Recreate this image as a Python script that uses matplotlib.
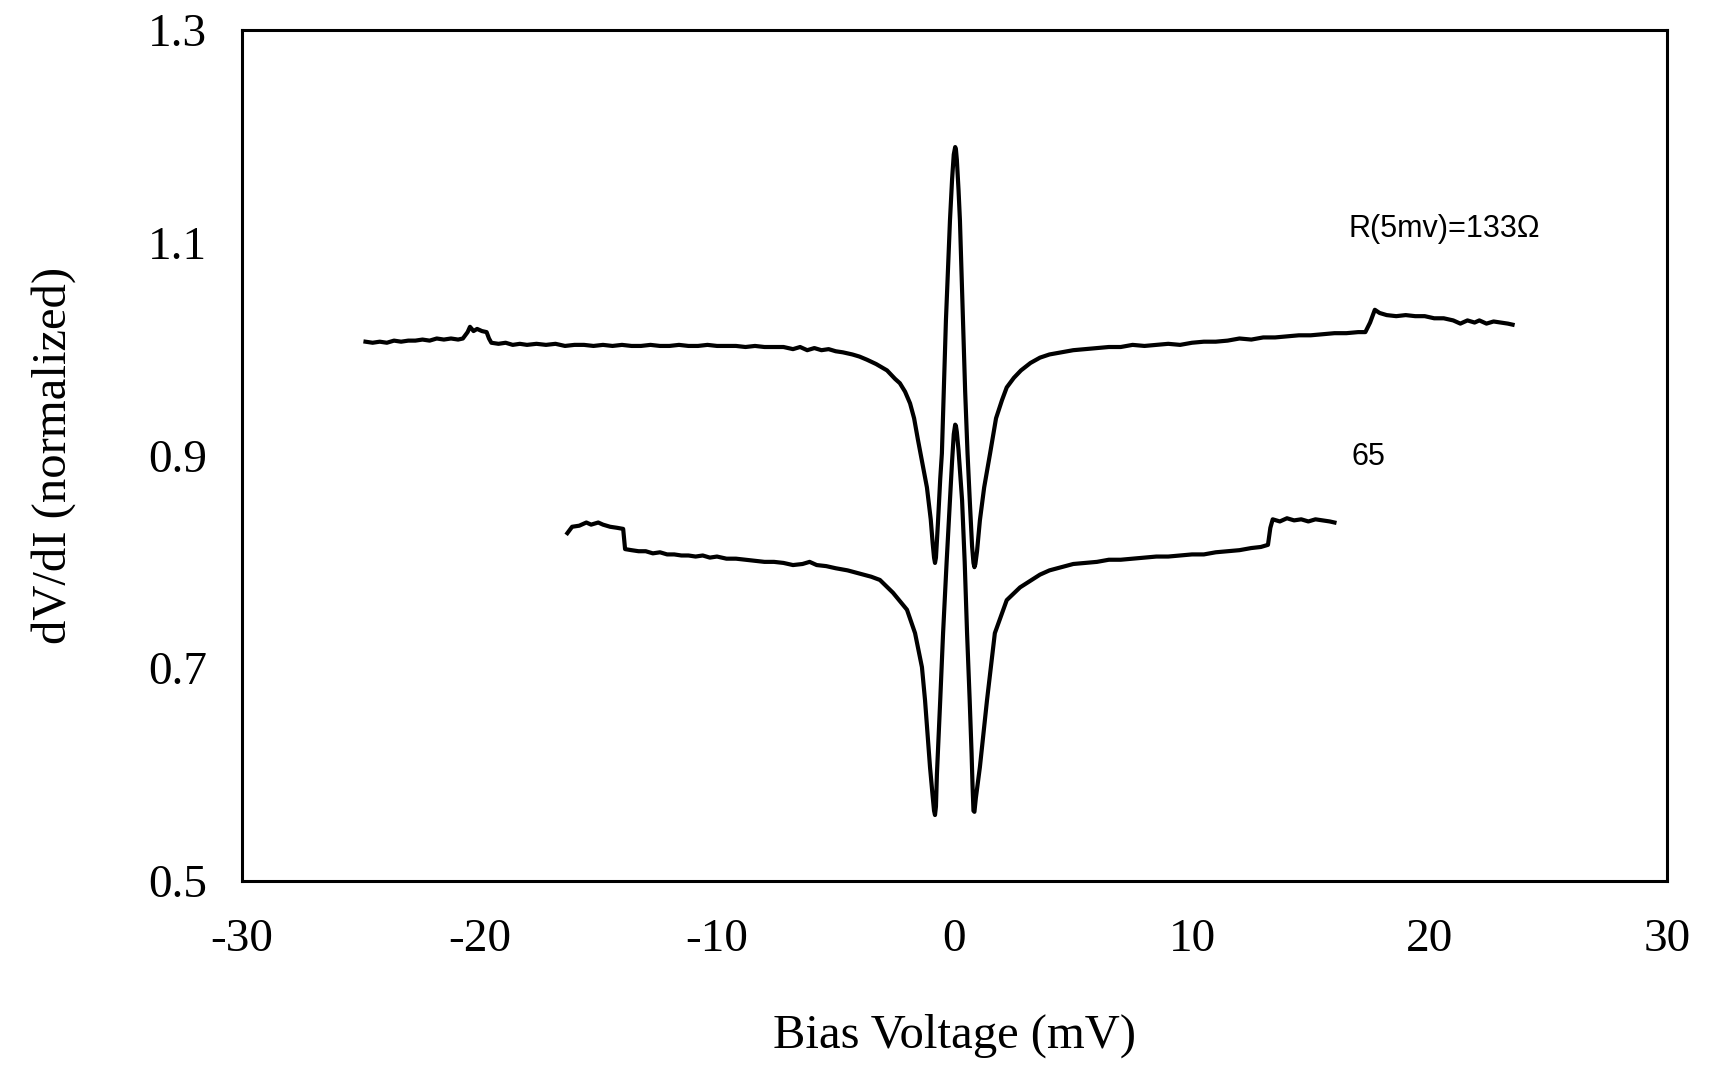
import matplotlib
matplotlib.use('Agg')
import matplotlib.pyplot as plt

plt.rcParams['font.family'] = ['Liberation Serif', 'DejaVu Serif']

# upper curve (R(5mV)=133 Ohm)
upper_x = [-24.8, -24.5, -24.2, -23.9, -23.6, -23.3, -23.0, -22.7, -22.4, -22.1, -21.8, -21.5, -21.2, -20.9, -20.7,
           -20.5, -20.4, -20.25, -20.1, -19.9, -19.7, -19.6, -19.5, -19.2, -18.9, -18.6, -18.3, -18.0, -17.6, -17.2,
           -16.8, -16.4, -16.0, -15.6, -15.2, -14.8, -14.4, -14.0, -13.6, -13.2, -12.8, -12.4, -12.0, -11.6, -11.2,
           -10.8, -10.4, -10.0, -9.6, -9.2, -8.8, -8.4, -8.0, -7.6, -7.2, -6.8, -6.5, -6.2, -5.9, -5.6, -5.3, -5.0,
           -4.7, -4.3, -4.0, -3.68, -3.3, -2.84, -2.5, -2.3, -2.08, -1.87, -1.7, -1.54, -1.37, -1.16, -1.0, -0.92,
           -0.86, -0.82, -0.78, -0.7, -0.6, -0.53, -0.45, -0.36, -0.19, -0.1, -0.03, 0.03, 0.06, 0.1, 0.17, 0.23,
           0.36, 0.45, 0.55, 0.65, 0.74, 0.8, 0.84, 0.88, 0.95, 1.07, 1.25, 1.5, 1.75, 2.0, 2.2, 2.5, 2.8, 3.2, 3.6,
           4.0, 4.5, 5.0, 5.5, 6.0, 6.5, 7.0, 7.5, 8.0,
           8.5, 9.0, 9.5, 10.0, 10.5, 11.0, 11.5, 12.0, 12.5, 13.0, 13.5, 14.0, 14.5, 15.0, 15.5, 16.0, 16.5, 17.0,
           17.3, 17.5, 17.7, 17.9, 18.2, 18.6, 19.0, 19.4, 19.8, 20.2, 20.6, 21.0, 21.3, 21.6, 21.9, 22.1, 22.4,
           22.7, 23.0, 23.3, 23.5]
upper_y = [1.007, 1.006, 1.007, 1.006, 1.008, 1.007, 1.008, 1.008, 1.009, 1.008, 1.010, 1.009, 1.010, 1.009, 1.010,
           1.016, 1.021, 1.017, 1.019, 1.017, 1.016, 1.010, 1.006, 1.005, 1.006, 1.004, 1.005, 1.004, 1.005, 1.004,
           1.005, 1.003, 1.004, 1.004, 1.003, 1.004, 1.003, 1.004, 1.003, 1.003, 1.004, 1.003, 1.003, 1.004, 1.003,
           1.003, 1.004, 1.003, 1.003, 1.003, 1.002, 1.003, 1.002, 1.002, 1.002, 1.000, 1.002, 0.999, 1.001, 0.999, 1.000, 0.998,
           0.997, 0.995, 0.993, 0.990, 0.986, 0.980, 0.972, 0.968, 0.960, 0.949, 0.935, 0.915, 0.895, 0.870, 0.840, 0.818,
           0.804, 0.799, 0.804, 0.835, 0.878, 0.902, 0.960, 1.027, 1.121, 1.160, 1.183, 1.190, 1.188, 1.178, 1.150, 1.121,
           1.027, 0.960, 0.902, 0.855, 0.815, 0.799, 0.795, 0.798, 0.810, 0.839, 0.870, 0.902, 0.935, 0.952, 0.964, 0.973, 0.980, 0.987, 0.992,
           0.995, 0.997, 0.999, 1.000, 1.001, 1.002, 1.002, 1.004, 1.003,
           1.004, 1.005, 1.004, 1.006, 1.007, 1.007, 1.008, 1.010, 1.009, 1.011, 1.011, 1.012, 1.013, 1.013, 1.014, 1.015, 1.015, 1.016,
           1.016, 1.025, 1.037, 1.034, 1.032, 1.031, 1.032, 1.031, 1.031, 1.029, 1.029, 1.027, 1.024, 1.027, 1.025, 1.027, 1.024,
           1.026, 1.025, 1.024, 1.023]

# lower curve (65 Ohm)
lower_x = [-16.3, -16.1, -15.8, -15.5, -15.3, -15.0, -14.8, -14.5, -14.2, -13.95, -13.87, -13.6, -13.3, -13.0, -12.7,
           -12.4, -12.1, -11.8, -11.5, -11.2, -10.9, -10.6, -10.3, -10.0, -9.6, -9.2, -8.8, -8.4, -8.0, -7.6, -7.2,
           -6.8, -6.4, -6.1, -5.8, -5.4, -5.0, -4.5, -4.0, -3.5, -3.14, -2.59, -2.0, -1.66, -1.37, -1.24, -1.03, -0.92,
           -0.86, -0.82, -0.78, -0.74, -0.6, -0.48, -0.33, -0.19, -0.1, -0.03, 0.03, 0.06, 0.1, 0.17, 0.32, 0.43, 0.53,
           0.64, 0.72, 0.76, 0.8, 0.84, 0.9, 1.07, 1.37, 1.7, 2.2, 2.76, 3.6, 4.0, 4.5, 5.0, 5.5, 6.0, 6.5, 7.0, 7.5,
           8.0, 8.5, 9.0, 9.5, 10.0,
           10.5, 11.0, 11.5, 12.0, 12.5, 12.9, 13.2, 13.3, 13.4, 13.7, 14.0, 14.3, 14.6, 14.9, 15.2, 15.5, 15.8, 16.0]
lower_y = [0.827, 0.833, 0.834, 0.837, 0.835, 0.837, 0.835, 0.833, 0.832, 0.831, 0.812, 0.811, 0.810, 0.810, 0.808,
           0.809, 0.807, 0.807, 0.806, 0.806, 0.805, 0.806, 0.804, 0.805, 0.803, 0.803, 0.802, 0.801, 0.800, 0.800, 0.799,
           0.797, 0.798, 0.800, 0.797, 0.796, 0.794, 0.792, 0.789, 0.786, 0.783, 0.771, 0.755, 0.733, 0.701, 0.670, 0.607, 0.580,
           0.566, 0.562, 0.570, 0.600, 0.670, 0.733, 0.800, 0.858, 0.895, 0.920, 0.929, 0.928, 0.922, 0.905, 0.858, 0.800, 0.733,
           0.670, 0.620, 0.590, 0.566, 0.565, 0.578, 0.607, 0.670, 0.733, 0.764, 0.776, 0.788, 0.792, 0.795, 0.798, 0.799, 0.800, 0.802, 0.802, 0.803,
           0.804, 0.805, 0.805, 0.806, 0.807,
           0.807, 0.809, 0.810, 0.811, 0.813, 0.814, 0.816, 0.832, 0.840, 0.838, 0.841, 0.839, 0.840, 0.838, 0.840, 0.839, 0.838, 0.837]

x_ticks = [-30, -20, -10, 0, 10, 20, 30]
y_ticks = [0.5, 0.7, 0.9, 1.1, 1.3]

fig = plt.figure(figsize=(17.09, 10.65), dpi=100)
ax = fig.add_axes([0.1416, 0.1728, 0.8338, 0.799])

ax.plot(upper_x, upper_y, color='black', lw=3, solid_joinstyle='round')
ax.plot(lower_x, lower_y, color='black', lw=3, solid_joinstyle='round')

ax.text(16.6, 1.113, 'R(5mv)=133\u03a9', family=['Liberation Sans', 'DejaVu Sans'], fontsize=22, va='center')
ax.text(16.7, 0.899, '65', family=['Liberation Sans', 'DejaVu Sans'], fontsize=22, va='center')

ax.set_xlim(-30, 30)
ax.set_ylim(0.5, 1.3)
ax.set_xticks(x_ticks)
ax.set_xticklabels([str(t) for t in x_ticks])
ax.set_yticks(y_ticks)
ax.set_yticklabels(['%.1f' % t for t in y_ticks])
ax.tick_params(length=0, labelsize=34)
ax.tick_params(axis='x', pad=27)
ax.tick_params(axis='y', pad=25)
for s in ax.spines.values():
    s.set_linewidth(2.2)

ax.set_xlabel('Bias Voltage (mV)', fontsize=35, labelpad=38)
ax.set_ylabel('dV/dI (normalized)', fontsize=35, labelpad=52)

fig.savefig('out.png', dpi=100)
